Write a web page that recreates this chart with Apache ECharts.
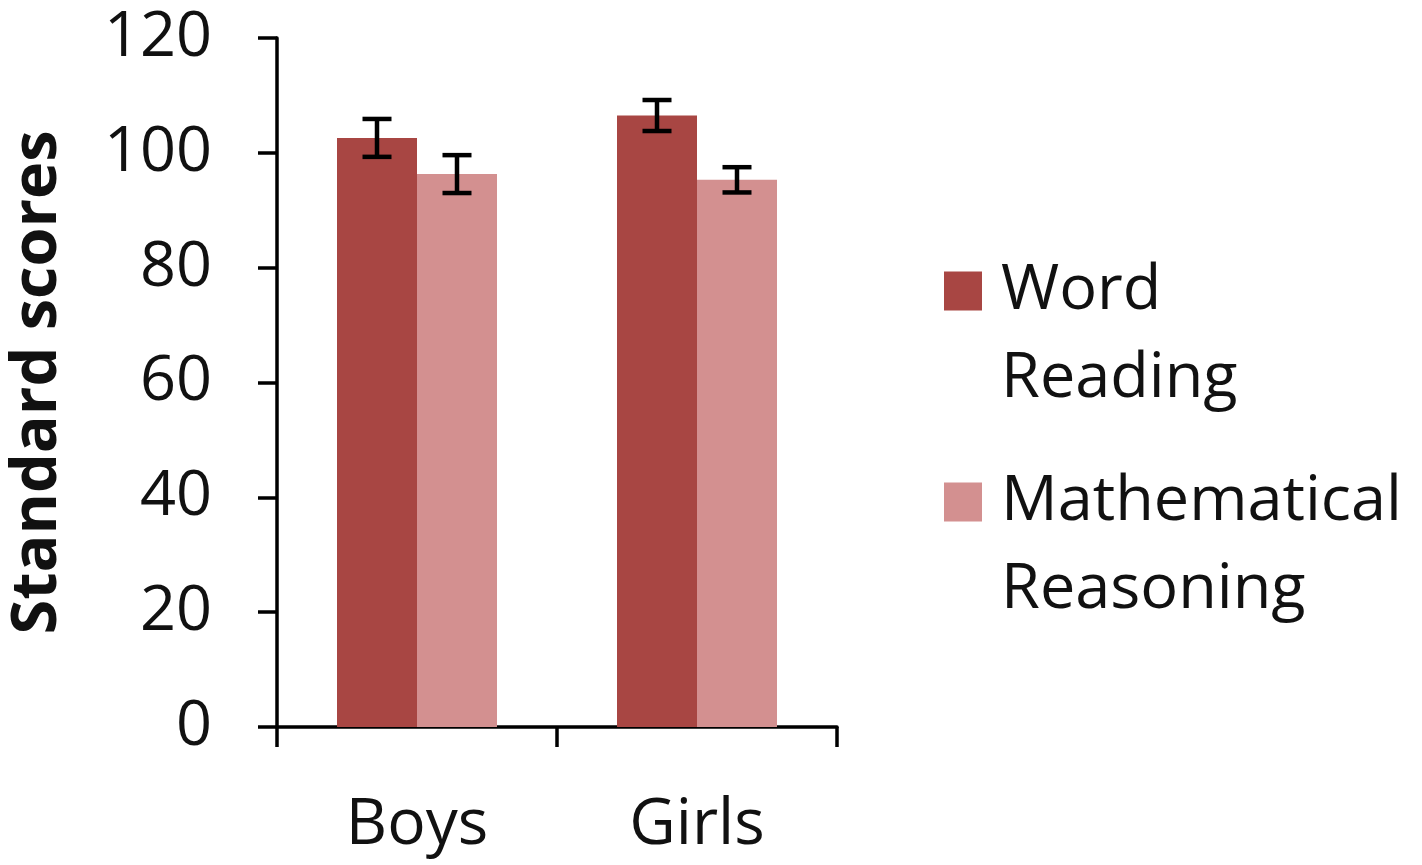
<!DOCTYPE html>
<html>
<head>
<meta charset="utf-8">
<script src="https://cdn.jsdelivr.net/npm/echarts@6/dist/echarts.min.js"></script>
<style>
html,body{margin:0;padding:0;background:#fff;}
#main{width:1422px;height:865px;}
</style>
</head>
<body>
<div id="main"></div>
<script>
const categories = ['Boys', 'Girls'];
const seriesNames = ['Word Reading', 'Mathematical Reasoning'];
const wordReading = [102.6, 106.5];
const wordReadingErr = [3.3, 2.7];
const mathReasoning = [96.3, 95.3];
const mathReasoningErr = [3.3, 2.2];
const yTicks = [0, 20, 40, 60, 80, 100, 120];

const colors = ['#A84643', '#D39090'];
const FONT = 'Open Sans';
const catGap = 0.4286;

function errSeries(idx, values, errs) {
  const data = values.map((v, i) => [i, v, errs[i]]);
  return {
    type: 'custom',
    name: seriesNames[idx] + ' error',
    z: 10,
    silent: true,
    data: data,
    renderItem: function (params, api) {
      const ci = api.value(0);
      const v = api.value(1);
      const e = api.value(2);
      const band = api.size([1, 0])[0];
      const barW = band * (1 - catGap) / 2;
      const off = (idx === 0 ? -1 : 1) * barW / 2;
      const top = api.coord([ci, v + e]);
      const bot = api.coord([ci, v - e]);
      const x = top[0] + off;
      const hw = 14.5;
      const style = { stroke: '#000', lineWidth: 4.5, fill: null };
      return {
        type: 'group',
        children: [
          { type: 'line', shape: { x1: x, y1: top[1], x2: x, y2: bot[1] }, style: style },
          { type: 'line', shape: { x1: x - hw, y1: top[1], x2: x + hw, y2: top[1] }, style: style },
          { type: 'line', shape: { x1: x - hw, y1: bot[1], x2: x + hw, y2: bot[1] }, style: style }
        ]
      };
    }
  };
}

const chart = echarts.init(document.getElementById('main'));
const legendText = {
  fontFamily: FONT, fontSize: 63, color: '#111', lineHeight: 88,
  padding: [0, 0, 0, 14]
};
chart.setOption({
  animation: false,
  backgroundColor: '#fff',
  grid: { left: 277, right: 585, top: 38, bottom: 138, containLabel: false },
  legend: [
    {
      data: [seriesNames[0]], left: 944, top: 159, padding: 0, orient: 'vertical',
      itemWidth: 38, itemHeight: 39, icon: 'rect', selectedMode: false,
      formatter: function (n) { return '\n' + n.replace(' ', '\n'); },
      textStyle: legendText
    },
    {
      data: [seriesNames[1]], left: 944, top: 370, padding: 0, orient: 'vertical',
      itemWidth: 38, itemHeight: 39, icon: 'rect', selectedMode: false,
      formatter: function (n) { return '\n' + n.replace(' ', '\n'); },
      textStyle: legendText
    }
  ],
  xAxis: {
    type: 'category',
    data: categories,
    axisLine: { lineStyle: { color: '#000', width: 3.5 } },
    axisTick: { show: true, length: 20, lineStyle: { color: '#000', width: 3.5 }, alignWithLabel: false },
    axisLabel: { fontFamily: FONT, fontSize: 64, color: '#111', margin: 67 },
    splitLine: { show: false }
  },
  yAxis: {
    type: 'value',
    min: yTicks[0], max: yTicks[yTicks.length - 1], interval: 20,
    name: 'Standard scores',
    nameLocation: 'middle',
    nameGap: 207,
    nameTextStyle: { fontFamily: FONT, fontSize: 63, fontWeight: 'bold', color: '#111' },
    axisLine: { show: true, lineStyle: { color: '#000', width: 3.5 } },
    axisTick: { show: true, length: 19, lineStyle: { color: '#000', width: 3.5 } },
    axisLabel: { fontFamily: FONT, fontSize: 63, color: '#111', margin: 65 },
    splitLine: { show: false }
  },
  series: [
    {
      type: 'bar', name: seriesNames[0], data: wordReading,
      itemStyle: { color: colors[0] }, barGap: 0, barCategoryGap: (catGap * 100) + '%'
    },
    {
      type: 'bar', name: seriesNames[1], data: mathReasoning,
      itemStyle: { color: colors[1] }, barGap: 0, barCategoryGap: (catGap * 100) + '%'
    },
    errSeries(0, wordReading, wordReadingErr),
    errSeries(1, mathReasoning, mathReasoningErr)
  ]
});
</script>
</body>
</html>
